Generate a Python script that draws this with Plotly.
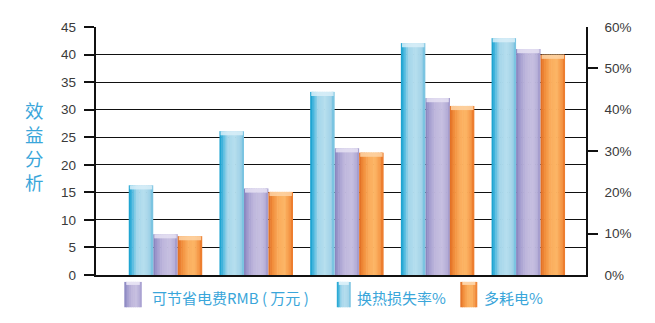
import plotly.graph_objects as go

# ---- data ----
groups = ["G1", "G2", "G3", "G4", "G5"]
savings_rmb = [7.4, 15.7, 23.0, 32.1, 41.0]          # 可节省电费RMB（万元）, left axis
heat_loss_pct = [21.7, 34.8, 44.3, 56.1, 57.3]       # 换热损失率%, right axis
extra_power_pct = [9.4, 20.1, 29.6, 40.9, 53.3]      # 多耗电%, right axis

left_ticks = [0, 5, 10, 15, 20, 25, 30, 35, 40, 45]
right_ticks = [0, 10, 20, 30, 40, 50, 60]
right_marks = [10, 30, 50]

legend_names = ["可节省电费RMB ( 万元 )", "换热损失率%", "多耗电%"]
side_title = "效益分析"

# ---- geometry (pixels) ----
W, H = 655, 323
L, R, T, B = 95.7, 69.3, 27.3, 48.2
PW, PH = W - L - R, H - T - B


def px_x(x):
    return (x - L) / PW


def px_y(y):
    return (H - B - y) / PH


def hex2rgb(h):
    h = h.lstrip("#")
    return tuple(int(h[i:i + 2], 16) for i in (0, 2, 4))


def ramp(stops, n):
    """Colours across a cylinder face, sampled at n strip centres."""
    out = []
    for j in range(n):
        t = (j + 0.5) / n
        for (t0, c0), (t1, c1) in zip(stops, stops[1:]):
            if t0 <= t <= t1:
                f = (t - t0) / (t1 - t0) if t1 > t0 else 0
                a, b = hex2rgb(c0), hex2rgb(c1)
                out.append("rgb(%d,%d,%d)" % tuple(round(a[i] + (b[i] - a[i]) * f) for i in range(3)))
                break
    return out


blue_stops = [(0, "#0f9ccc"), (0.12, "#45b6dd"), (0.32, "#a4d6ea"), (0.6, "#b6deee"),
              (0.85, "#a2d3e8"), (1, "#6fbfdf")]
purple_stops = [(0, "#8480bc"), (0.15, "#a29cce"), (0.4, "#bfb7dc"), (0.7, "#c6bfe0"),
                (0.9, "#b3abd6"), (1, "#9e96ca")]
orange_stops = [(0, "#df6a22"), (0.15, "#f08a38"), (0.4, "#faac5c"), (0.65, "#fcb666"),
                (0.88, "#f49444"), (1, "#ea7426")]

NSTRIP = 14
BW = 0.27  # bar width in category units

series = [
    # values, axis, colour ramp, cap colour, cap height, slot
    (heat_loss_pct, "y2", blue_stops, "#d9eff8", 1.0, 0),
    (savings_rmb, "y", purple_stops, "#e6e2f3", 0.75, 1),
    (extra_power_pct, "y2", orange_stops, "#fdd3a6", 1.0, 2),
]

fig = go.Figure()
for vals, ax, stops, cap, caph, slot in series:
    cols = ramp(stops, NSTRIP)
    sw = BW / NSTRIP
    x0 = (slot - 1.5) * BW
    for j, c in enumerate(cols):
        fig.add_trace(go.Bar(
            x=groups, y=vals, yaxis=ax,
            offset=x0 + j * sw, width=sw * 1.35 if j < NSTRIP - 1 else sw,
            marker=dict(color=c, line=dict(width=0)),
            showlegend=False, hoverinfo="skip",
        ))
    # light rim on top of each cylinder
    fig.add_trace(go.Bar(
        x=groups, y=[caph] * len(vals), base=[v - caph for v in vals], yaxis=ax,
        offset=x0 + sw * 0.6, width=BW - sw * 1.2,
        marker=dict(color=cap, opacity=0.85, line=dict(width=0)),
        showlegend=False, hoverinfo="skip",
    ))

axis_font = dict(family="Liberation Sans, Arial, sans-serif", size=13.5, color="#3a3a3a")

fig.update_layout(
    width=W, height=H,
    margin=dict(l=L, r=R, t=T, b=B, pad=0),
    paper_bgcolor="white", plot_bgcolor="white",
    barmode="overlay",
    showlegend=False,
    xaxis=dict(type="category", range=[-0.766, 4.636], showticklabels=False,
               showgrid=False, zeroline=False, showline=True, linecolor="#111",
               linewidth=1.5, ticks="", automargin=False),
    yaxis=dict(range=[0, 45], tickvals=left_ticks, ticks="outside", ticklen=10.5,
               tickwidth=1.5, tickcolor="#111", showgrid=True, gridcolor="#111",
               gridwidth=1.4, zeroline=False, showline=True, linecolor="#111",
               linewidth=1.5, tickfont=axis_font, ticklabelstandoff=5,
               automargin=False),
    yaxis2=dict(range=[0, 60], overlaying="y", side="right", tickvals=right_ticks,
                ticktext=["%d%%" % v for v in right_ticks], ticks="",
                showgrid=False, zeroline=False, showline=True, linecolor="#111",
                linewidth=1.5, tickfont=axis_font, ticklabelstandoff=14,
                automargin=False),
    yaxis3=dict(range=[0, 60], overlaying="y", side="right", tickvals=right_marks,
                ticks="outside", ticklen=11, tickwidth=1.5, tickcolor="#111",
                showticklabels=False, showgrid=False, zeroline=False,
                showline=False, automargin=False),
)

# tick marks for the right axis need a trace bound to it
fig.add_trace(go.Scatter(x=[groups[0]], y=[0], yaxis="y3", mode="markers",
                         marker=dict(opacity=0), showlegend=False, hoverinfo="skip"))

# vertical side title, stacked one character per line
title_col = "#3aa6da"
cjk = "Noto Sans CJK SC, sans-serif"
fig.add_annotation(text="<br>".join(side_title), xref="paper", yref="paper",
                   x=px_x(34), y=px_y(146.5), xanchor="center", yanchor="middle",
                   showarrow=False, align="center",
                   font=dict(family=cjk, size=18.5, color=title_col))

# hand-drawn legend: cylinder swatches and labels
legend_items = [
    (purple_stops, "#e6e2f3", 124, 141.5, 150),
    (blue_stops, "#d9eff8", 336.5, 350.5, 355),
    (orange_stops, "#fdd3a6", 460, 477, 481.5),
]
sy0, sy1 = 281.7, 307
for (stops, cap, xa, xb, tx), name in zip(legend_items, legend_names):
    n = 8
    cols = ramp(stops, n)
    w = (xb - xa) / n
    for j, c in enumerate(cols):
        fig.add_shape(type="rect", xref="paper", yref="paper",
                      x0=px_x(xa + j * w), x1=px_x(xa + (j + 1) * w + (0.6 if j < n - 1 else 0)),
                      y0=px_y(sy1), y1=px_y(sy0), fillcolor=c, line=dict(width=0), layer="above")
    fig.add_shape(type="rect", xref="paper", yref="paper",
                  x0=px_x(xa + 2), x1=px_x(xb - 2), y0=px_y(sy0 + 3), y1=px_y(sy0),
                  fillcolor=cap, line=dict(width=0), layer="above")
    fig.add_annotation(text=name, xref="paper", yref="paper", x=px_x(tx), y=px_y(297),
                       xanchor="left", yanchor="middle", showarrow=False,
                       font=dict(family=cjk, size=15, color="#3aa6da"))

fig.write_html("out.html")
